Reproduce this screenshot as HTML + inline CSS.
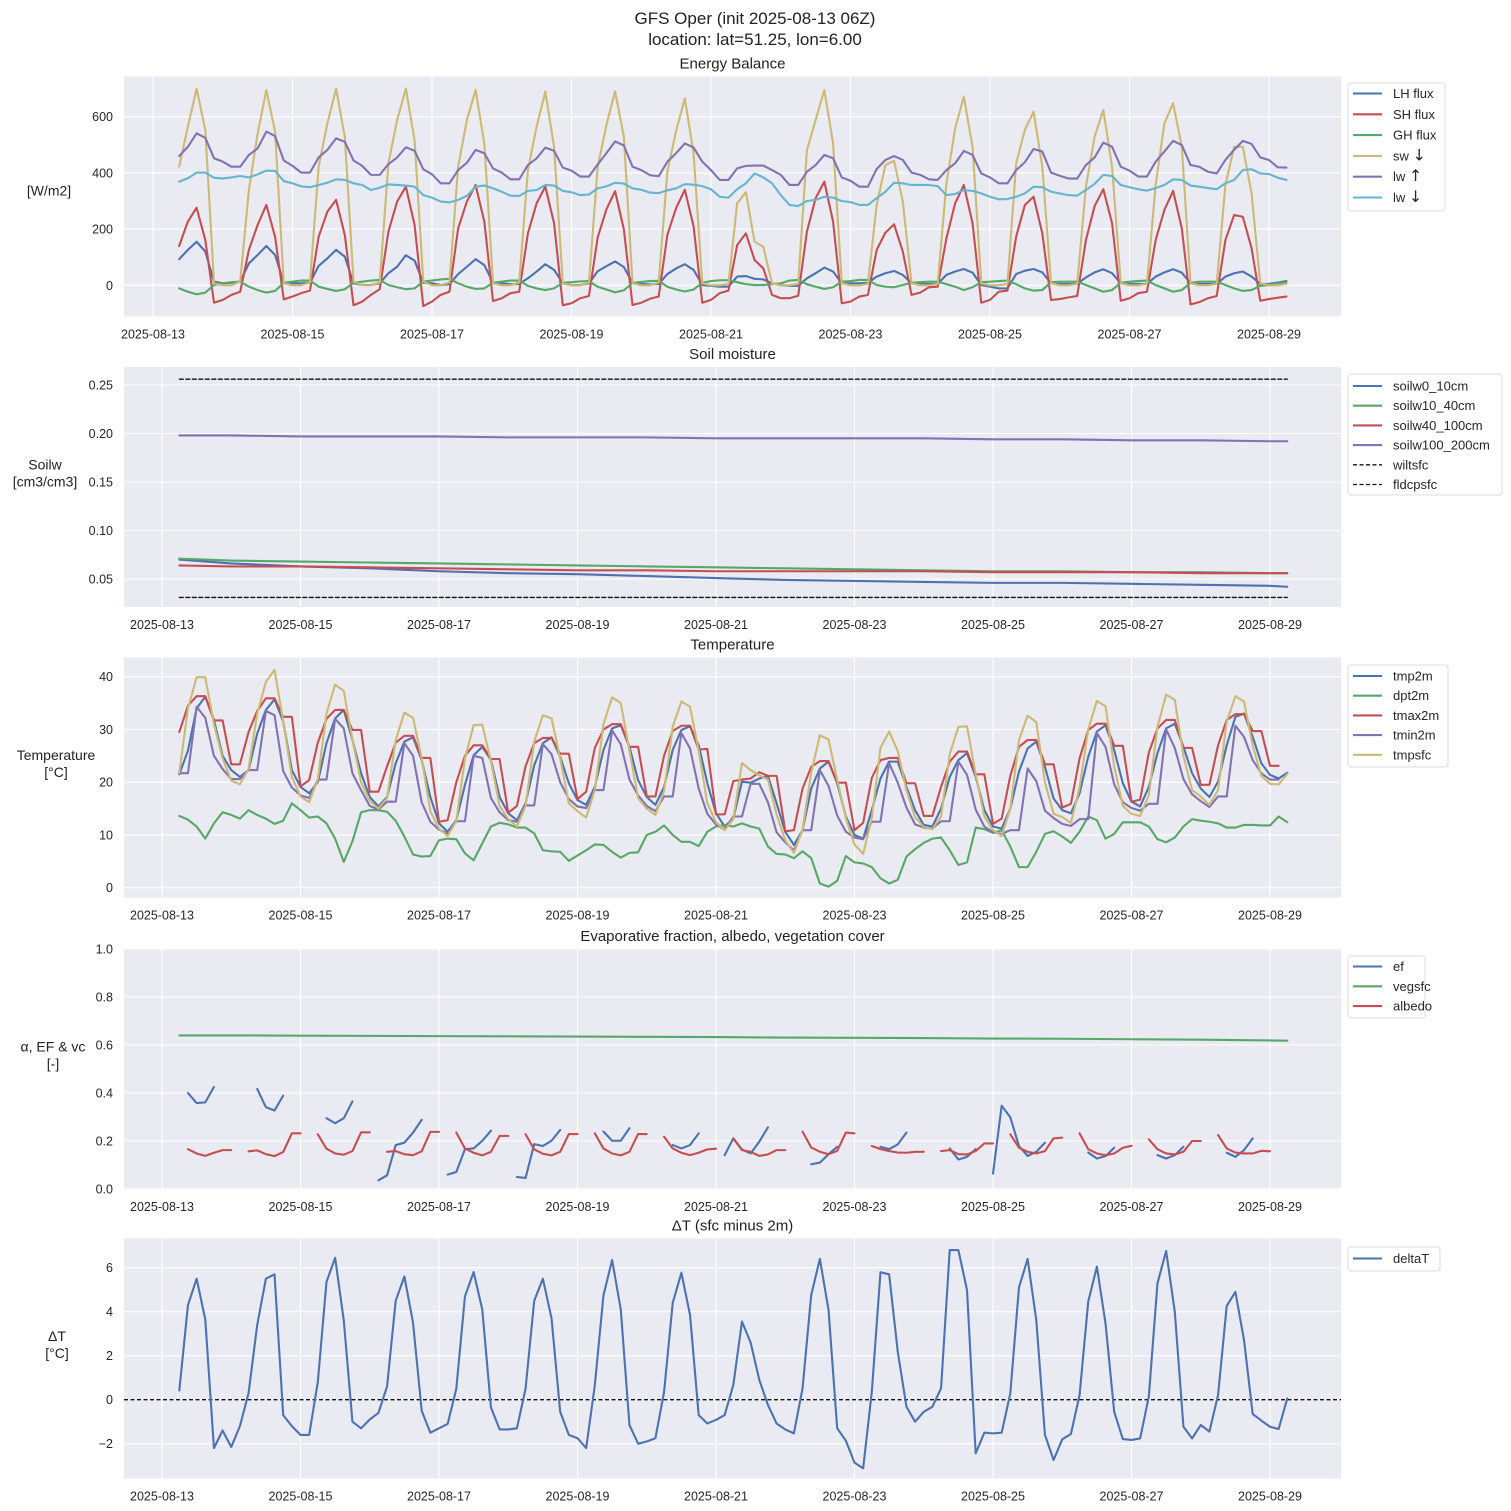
<!DOCTYPE html>
<html><head><meta charset="utf-8">
<style>
html,body{margin:0;padding:0;background:#fff;}
svg{display:block;font-family:"Liberation Sans","DejaVu Sans",sans-serif;}
</style></head>
<body>
<svg id="fig" width="1511" height="1511" viewBox="0 0 1511 1511" xmlns="http://www.w3.org/2000/svg">
<rect width="1511" height="1511" fill="#fff"/>
<text x="755" y="24" font-size="17" text-anchor="middle" fill="#222">GFS Oper (init 2025-08-13 06Z)</text>
<text x="755" y="45" font-size="17" text-anchor="middle" fill="#222">location: lat=51.25, lon=6.00</text>
</svg>
<script>
// ---------- data ----------
const dateLabels = ["2025-08-13","2025-08-15","2025-08-17","2025-08-19","2025-08-21","2025-08-23","2025-08-25","2025-08-27","2025-08-29"];
const dateDays = [0,2,4,6,8,10,12,14,16];

// Energy balance (3-hourly, from 08-13 09Z)
const lhFlux = [93,126,155,120,13,7,9,13, 78,108,140,108,9,7,7,9, 69,96,126,102,7,1,1,7, 43,66,107,88,9,7,1,4, 40,66,93,72,9,7,4,5, 25,49,75,55,7,1,1,7, 50,68,85,65,9,5,3,5, 40,60,75,55,1,-2,-5,-5, 31,33,23,21,7,1,-2,-2, 25,43,63,49,7,7,7,9, 31,43,51,37,7,5,5,5, 37,49,58,45,1,-5,-11,-11, 40,52,58,46,7,5,5,5, 28,46,57,43,7,5,5,5, 31,46,57,45,7,5,5,5, 31,43,49,31,5,5,10,15];
const shFlux = [140,227,276,161,-62,-52,-34,-23, 126,215,286,173,-50,-40,-28,-19, 173,262,304,179,-71,-58,-34,-14, 191,298,351,215,-74,-58,-34,-23, 203,298,357,227,-56,-46,-28,-23, 185,292,351,221,-71,-64,-46,-38, 170,270,335,200,-70,-62,-48,-40, 180,275,340,210,-62,-52,-28,-19, 143,185,90,60,-34,-46,-46,-37, 191,310,369,227,-64,-58,-40,-34, 126,187,217,120,-34,-26,-7,-5, 167,292,357,221,-62,-52,-23,-19, 173,286,315,185,-52,-49,-43,-38, 161,282,342,221,-55,-46,-28,-23, 161,268,336,203,-68,-60,-46,-38, 161,250,244,132,-55,-49,-44,-40];
const ghFlux = [-11,-23,-32,-26,1,7,11,13, -5,-17,-26,-20,9,13,17,17, -5,-13,-20,-14,9,13,17,19, 1,-7,-14,-11,13,17,21,23, 7,-5,-13,-11,9,13,17,17, -2,-11,-17,-11,9,11,14,15, -5,-15,-25,-18,8,12,15,16, -5,-15,-22,-15,9,15,18,18, 11,4,1,1,4,7,17,19, 4,-5,-13,-7,13,15,19,19, 1,-5,-7,1,9,11,13,13, 4,-5,-17,-7,11,13,15,17, 4,-11,-19,-17,11,13,13,13, 1,-11,-23,-17,9,13,15,17, 1,-11,-23,-17,9,13,13,13, 1,-11,-20,-17,-2,1,7,11];
const swDown = [422,565,700,553,7,0,0,13, 340,540,695,547,7,0,0,10, 422,576,700,529,13,0,0,10, 434,588,700,517,13,0,0,10, 422,588,695,505,7,0,0,10, 410,565,689,493,7,0,0,10, 420,570,690,530,7,0,0,10, 405,550,665,470,7,0,0,5, 292,331,155,137,7,0,0,5, 481,588,695,505,7,0,0,5, 286,428,443,298,7,0,0,5, 363,558,671,493,7,0,0,5, 434,553,618,422,7,0,0,5, 351,529,624,422,7,0,0,5, 357,576,648,493,7,0,0,5, 357,493,493,327,7,0,0,5];
const lwUp = [460,493,541,525,452,440,422,422, 464,487,547,531,444,425,401,401, 455,482,523,511,444,425,393,393, 431,455,491,479,413,395,363,363, 410,436,482,470,416,401,377,377, 428,452,490,479,419,408,387,387, 430,470,512,498,422,410,392,388, 440,470,505,490,440,410,375,375, 416,425,426,426,410,393,357,357, 404,428,464,452,384,372,351,351, 414,446,460,446,401,393,377,375, 410,434,478,464,398,384,363,363, 410,438,485,476,401,390,380,380, 428,455,508,493,422,408,387,387, 440,476,514,499,428,422,404,398, 446,482,514,503,455,446,420,419];
const lwDown = [369,381,401,401,383,380,384,389, 384,395,408,407,371,363,352,349, 357,365,377,375,363,357,339,347, 359,357,355,351,321,312,298,295, 304,318,351,355,345,333,319,318, 336,339,357,355,336,331,321,323, 345,352,365,362,345,340,330,328, 338,345,360,358,353,342,315,312, 342,363,398,384,363,321,286,282, 300,304,315,312,300,296,286,286, 310,333,365,363,357,357,357,353, 321,325,339,336,327,315,306,307, 315,327,351,349,333,327,321,319, 339,361,393,389,357,349,342,337, 346,357,377,375,355,351,346,342, 363,375,410,413,398,396,383,375];

// Soil moisture (sampled daily)
const soilDays = [0.25,1,2,3,4,5,6,7,8,9,10,11,12,13,14,15,16,16.25];
const soilw0_10 = [0.070,0.066,0.063,0.061,0.058,0.056,0.055,0.053,0.051,0.049,0.048,0.047,0.046,0.046,0.045,0.044,0.043,0.042];
const soilw10_40 = [0.071,0.069,0.068,0.067,0.066,0.065,0.064,0.063,0.062,0.061,0.060,0.059,0.058,0.058,0.057,0.057,0.056,0.056];
const soilw40_100 = [0.064,0.063,0.063,0.062,0.061,0.060,0.059,0.059,0.058,0.058,0.058,0.058,0.057,0.057,0.057,0.056,0.056,0.056];
const soilw100_200 = [0.198,0.198,0.197,0.197,0.197,0.196,0.196,0.196,0.195,0.195,0.195,0.195,0.194,0.194,0.193,0.193,0.192,0.192];
const wiltsfc = 0.031;
const fldcpsfc = 0.256;

// Temperature (3-hourly from 08-13 06Z)
const tmp2m = [21.5,26,34,36.2,31.8,25,22.3,21, 22.3,29.2,33.7,35.7,31.5,22.3,19.1,17.9, 20,27.4,32.1,33.7,28,21.7,17.2,15.4, 17.2,23.6,27.7,28.5,24.2,17.2,12.2,10.6, 12.8,19.5,25.1,26.7,24.2,17.2,14.1,12.8, 16,23.2,27.4,28.5,24.8,19.8,16.6,15.7, 19.1,26.1,30.2,30.8,26.7,20.4,17.2,15.7, 19.1,26.1,29.9,30.6,27,19.8,14.1,11.6, 13.1,20.1,19.9,20.7,21.2,16,10.6,8.1, 10.9,18.8,22.6,23.9,19.8,13.5,10,9.3, 14.7,20.7,23.9,23.9,19.1,14.7,11.9,11.6, 15,21,24.2,25.5,21,14.7,11.6,11.2, 15,22,26.4,27.7,22.9,16.9,14.7,14.1, 17.9,24.8,29.6,30.8,26.1,19.8,16.3,15.4, 19.1,25.5,30.2,31.1,26.7,21.7,18.8,17.2, 20.1,27,32.4,33,28.6,23.6,21.4,20.7, 21.8];
const dpt2m = [13.6,12.9,11.6,9.3,12.2,14.3,13.8,13.1, 14.7,13.8,13.1,12.1,12.7,16,14.7,13.3, 13.5,12.2,9.3,4.9,8.8,14.3,14.7,14.7, 14.4,12.7,9.7,6.3,5.9,6,9,9.3, 9.2,6.5,5.2,8.4,11.6,12.3,12,11.4, 11.4,10.3,7.1,6.9,6.8,5.1,6.1,7.1, 8.2,8.1,6.8,5.7,6.6,6.7,10,10.6, 11.8,10,8.7,8.7,7.9,10.6,11.6,11.9, 11.6,12.2,11.6,11.2,7.8,6.4,6.3,5.6, 6.9,5.6,0.8,0.2,1.3,6,4.8,4.6, 3.9,1.8,0.8,1.5,5.9,7.3,8.5,9.3, 9.5,7.1,4.3,4.8,11.4,11.1,10.4,10.9, 7.8,3.9,3.9,6.8,10.2,10.7,9.7,8.5, 10.6,13.5,12.8,9.3,10.2,12.4,12.4,12.4, 11.6,9.2,8.6,9.5,11.6,13,12.7,12.5, 12.2,11.4,11.4,11.9,11.9,11.8,11.8,13.5, 12.4];
const tmax2m = [29.5,34.5,36.3,36.3,31.7,31.7,23.4,23.4, 29.5,33.5,35.9,35.9,32.4,32.4,19.2,20.4, 27.5,32,33.7,33.7,29.9,29.9,18.2,18.2, 23,27.5,28.8,28.8,24.6,24.6,12.5,12.8, 20,25,27,27,24.4,24.4,14.2,15.5, 23,27.4,28.4,28.4,25.4,25.4,16.8,18.2, 26.5,30,31,31,26.7,26.7,17.3,17.3, 25,29.7,30.7,30.7,26.2,26.3,13.9,13.9, 20.2,20.5,20.7,21.9,21.2,21.2,10.7,10.9, 18.8,22.9,24,24,19.9,19.9,10.9,12.3, 20.8,24.2,24.6,24.6,19.8,19.8,13.6,13.6, 19.1,23.9,25.8,25.8,21.5,21.5,12.1,13.1, 21.2,26.7,28,28,23.4,23.4,15.2,15.9, 24.5,29.9,31.1,31.1,26.9,26.9,16.3,16.7, 25.6,30.2,31.8,31.8,26.5,26.5,19.5,19.5, 27,31.8,32.9,32.9,29.7,29.7,23.1,23.1];
const tmin2m = [21.7,21.7,34.3,32.2,25,22.5,20.6,20.6, 22.3,22.3,33.5,32.7,22.1,19,17.5,17, 20.5,20.5,32,30.2,21.7,18.5,15.5,14.8, 16.3,16.3,27.4,25,16.2,12.5,11,10.3, 12.6,12.6,25,24.6,17,14.3,12.8,12.5, 15.6,15.6,27.2,25.3,20,16.8,15.4,15.1, 18.5,18.5,29.8,27.2,20.5,17.5,15.5,14.5, 17.3,17.3,29.3,26.4,18.8,14,12,11, 13.5,13.5,19.7,19.7,16.2,10.5,8.6,7.1, 10.9,10.9,22.3,19.3,13.7,10.6,9.5,9.2, 12.5,12.5,23.6,19.9,15.2,12,11.4,11.2, 12.6,12.6,23.9,21.4,14.8,11.6,10.5,10.2, 10.9,10.9,22.6,20.2,14.6,13.2,12.1,11.7, 13,13,29.3,26.7,19.6,16.2,15.1,14.6, 15.9,15.9,30,26.5,20.6,17.7,16.4,15.3, 17.3,17.3,30.7,28.6,24.2,21.7,20.5,20.5];
const tmpsfc = [21.8,34,39.9,39.9,31,24.5,20.3,19.6, 22.5,33,39,41.3,31.6,21,17.3,16.2, 20.5,33,38.5,37.3,28,20,16.5,15, 17,28,33.2,32.2,24.5,14.5,11.2,9.8, 12.7,24.5,30.8,30.9,24,15.5,13,11.6, 15.5,27.7,32.7,32.1,24.5,16,14.5,13.3, 18.5,31,36.1,35,26,17,15,13.8, 18.3,30.5,35.3,34.3,26,16,12.4,10.9, 13,23.6,22.3,21.3,20.5,13.9,9,6.6, 11,21.8,28.9,28.1,20.5,13.2,8.2,6.4, 13.2,26.5,29.6,25.9,18.5,13.4,11.5,11.1, 13.5,25.3,30.5,30.6,21.5,13.5,10.9,9.8, 15,28,32.6,31.4,20,14,13.4,12.3, 19,30,35.4,34.4,23,15.5,14,13.6, 17.5,30.5,36.6,35.6,25,18.5,17.3,15.7, 18.5,31.5,36.3,35.3,27,21.2,19.7,19.6, 21.6];

// Evaporative fraction / albedo / veg (null = missing)
const _ = null;
const efVals = [_,0.40,0.358,0.361,0.425,_,_,_, _,0.417,0.341,0.327,0.389,_,_,_, _,0.295,0.274,0.295,0.365,_,_,0.036, 0.057,0.183,0.193,0.235,0.288,_,_,0.060, 0.071,0.166,0.169,0.201,0.243,_,_,0.050, 0.046,0.187,0.179,0.201,0.246,_,_,_, _,0.239,0.201,0.201,0.253,_,_,_, _,0.183,0.169,0.183,0.232,_,_,0.141, 0.211,0.165,0.148,0.197,0.257,_,_,_, _,0.103,0.110,0.145,0.176,_,_,_, _,0.176,0.166,0.186,0.235,_,_,_, _,0.169,0.123,0.134,0.166,_,0.064,0.347, 0.299,0.179,0.138,0.155,0.193,_,_,_, _,0.152,0.127,0.137,0.172,_,_,_, _,0.141,0.127,0.141,0.176,_,_,_, _,0.151,0.134,0.162,0.211,_,_,_, _];
const albedoVals = [_,0.166,0.148,0.138,0.151,0.162,0.162,_, 0.157,0.161,0.145,0.137,0.154,0.232,0.232,_, 0.228,0.168,0.148,0.143,0.158,0.236,0.236,_, 0.155,0.158,0.145,0.141,0.157,0.238,0.238,_, 0.235,0.169,0.151,0.140,0.155,0.221,0.221,_, 0.228,0.165,0.147,0.140,0.155,0.229,0.229,_, 0.232,0.169,0.148,0.140,0.155,0.229,0.229,_, 0.218,0.169,0.151,0.141,0.151,0.165,0.168,_, 0.211,0.162,0.155,0.138,0.144,0.162,0.162,_, 0.239,0.173,0.155,0.145,0.159,0.235,0.232,_, 0.179,0.166,0.158,0.152,0.151,0.155,0.155,_, 0.158,0.162,0.145,0.144,0.158,0.190,0.190,_, 0.228,0.172,0.155,0.148,0.158,0.211,0.214,_, 0.232,0.166,0.148,0.141,0.148,0.172,0.180,_, 0.207,0.166,0.148,0.144,0.155,0.200,0.200,_, 0.225,0.169,0.152,0.148,0.148,0.159,0.157,_, _];
const vegDays = [0.25,1,2,3,4,5,6,7,8,9,10,11,12,13,14,15,16,16.25];
const vegsfc = [0.640,0.640,0.639,0.638,0.637,0.636,0.635,0.634,0.633,0.631,0.630,0.629,0.627,0.626,0.624,0.622,0.619,0.618];

// Delta T
const deltaT = [0.42,4.3,5.5,3.65,-2.2,-1.4,-2.15,-1.2, 0.3,3.4,5.5,5.7,-0.7,-1.2,-1.6,-1.6, 0.8,5.35,6.45,3.6,-1.0,-1.3,-0.9,-0.6, 0.6,4.5,5.6,3.5,-0.5,-1.5,-1.3,-1.1, 0.5,4.7,5.8,4.1,-0.35,-1.35,-1.35,-1.3, 0.5,4.5,5.5,3.7,-0.55,-1.6,-1.75,-2.2, 0.65,4.75,6.35,4.1,-1.15,-2.0,-1.9,-1.75, 0.35,4.4,5.77,3.85,-0.7,-1.08,-0.92,-0.7, 0.67,3.55,2.6,0.9,-0.24,-1.08,-1.35,-1.53, 0.52,4.76,6.4,4.08,-1.3,-1.86,-2.86,-3.12, 0.36,5.79,5.7,2.18,-0.32,-1.0,-0.55,-0.32, 0.52,6.8,6.8,4.98,-2.44,-1.5,-1.53,-1.5, 0.29,5.1,6.4,3.62,-1.6,-2.74,-1.8,-1.56, 0.21,4.45,6.05,3.47,-0.55,-1.79,-1.83,-1.76, 0.14,5.29,6.76,4.0,-1.23,-1.76,-1.15,-1.45, 0.21,4.26,4.9,2.71,-0.65,-0.95,-1.23,-1.33, 0.06];

const energyTicks = [0,200,400,600];
const soilTicks = [0.05,0.10,0.15,0.20,0.25];
const tempTicks = [0,10,20,30,40];
const fracTicks = [0.0,0.2,0.4,0.6,0.8,1.0];
const dtTicks = [-2,0,2,4,6];

// ---------- drawing ----------
const NS = "http://www.w3.org/2000/svg";
const svg = document.getElementById('fig');
const C = {blue:"#4C72B0",red:"#C44E52",green:"#55A868",purple:"#8172B2",yellow:"#CCB974",cyan:"#64B5CD"};
function mk(tag, attrs, parent){
  const e = document.createElementNS(NS, tag);
  for (const k in attrs) e.setAttribute(k, attrs[k]);
  (parent||svg).appendChild(e);
  return e;
}
const AX_L = 124, AX_R = 1341;

function makePanel(key, top, bottom, x0, dayPx, yfun, ticks, tickFmt, title, ylab, ylabX){
  const g = mk('g', {});
  
  
  const bg = mk('rect', {x:AX_L, y:top, width:AX_R-AX_L, height:bottom-top, fill:'#EAEAF2'}, g);
  
  
  const X = d => x0 + d*dayPx;
  dateDays.forEach((d,k)=>{
    mk('line', {x1:X(d), x2:X(d), y1:top, y2:bottom, stroke:'#fff', 'stroke-width':1.1}, g);
    const t = mk('text', {x:X(d), y:bottom+22, 'font-size':12.5, 'text-anchor':'middle', fill:'#262626'}, g);
    t.textContent = dateLabels[k];
    
    
  });
  ticks.forEach(v=>{
    const y = yfun(v);
    mk('line', {x1:AX_L, x2:AX_R, y1:y, y2:y, stroke:'#fff', 'stroke-width':1.1}, g);
    const t = mk('text', {x:113, y:y+4.5, 'font-size':12.5, 'text-anchor':'end', fill:'#262626'}, g);
    t.textContent = tickFmt(v);
    
    
  });
  const tt = mk('text', {x:(AX_L+AX_R)/2, y:top-8, 'font-size':15, 'text-anchor':'middle', fill:'#222'}, g);
  tt.textContent = title;
  
  
  const mid = (top+bottom)/2 - (ylab.length > 1 ? 14 : 6);
  ylab.forEach((s,k)=>{
    const yl = mk('text', {x:ylabX, y:mid - (ylab.length-1)*8.5 + k*17 + 5, 'font-size':14, 'text-anchor':'middle', fill:'#222'}, g);
    yl.textContent = s;
    
    
  });
  return {g, X};
}

function drawSeries(g, X, yfun, times, vals, color, name, dash){
  let seg = [];
  const segs = [];
  vals.forEach((v,i)=>{
    if (v === null || v === undefined) { if (seg.length) segs.push(seg); seg = []; }
    else seg.push(X(times[i]).toFixed(2)+','+yfun(v).toFixed(2));
  });
  if (seg.length) segs.push(seg);
  segs.forEach(s=>{
    if (s.length === 1) return;
    const p = mk('polyline', {points:s.join(' '), fill:'none', stroke:color, 'stroke-width':dash?1.3:2.1, 'stroke-linejoin':'round', 'stroke-linecap':'round'}, g);
    if (dash) p.setAttribute('stroke-dasharray', '4,2.5');
    
    
  });
}

function legend(key, x, y, w, h, entries, step, firstY){
  const g = mk('g', {});
  
  
  mk('rect', {x:x, y:y, width:w, height:h, rx:3, fill:'#fff', 'fill-opacity':0.85, stroke:'#dcdcdc', 'stroke-width':1}, g);
  entries.forEach((e,k)=>{
    const yy = firstY + k*step;
    const ln = mk('line', {x1:x+5, x2:x+34, y1:yy, y2:yy, stroke:e[1], 'stroke-width':e[2]?1.3:2.1}, g);
    if (e[2]) ln.setAttribute('stroke-dasharray', '4,2.5');
    const t = mk('text', {x:x+45, y:yy+4.5, 'font-size':13, fill:'#262626'}, g);
    const m = e[0].match(/^(.*?)([\u2191\u2193])$/);
    if (m) {
      t.textContent = m[1];
      const ar = mk('tspan', {'font-size':16, 'font-family':'DejaVu Sans, sans-serif'}, t);
      ar.textContent = m[2];
    } else {
      t.textContent = e[0];
    }
    
    
  });
}

// time arrays
const tEnergy = lhFlux.map((_,i)=>0.375 + 0.125*i);
const tMain = tmp2m.map((_,i)=>0.25 + 0.125*i);

// Panel 1: energy
{
  const yf = v => 285.3 - v*0.281;
  const P = makePanel('energy', 76.5, 316.5, 153, 69.75, yf, energyTicks, v=>String(v), 'Energy Balance', ['[W/m2]'], 49);
  drawSeries(P.g, P.X, yf, tEnergy, lhFlux, C.blue, 'lh-flux');
  drawSeries(P.g, P.X, yf, tEnergy, shFlux, C.red, 'sh-flux');
  drawSeries(P.g, P.X, yf, tEnergy, ghFlux, C.green, 'gh-flux');
  drawSeries(P.g, P.X, yf, tEnergy, swDown, C.yellow, 'sw-down');
  drawSeries(P.g, P.X, yf, tEnergy, lwUp, C.purple, 'lw-up');
  drawSeries(P.g, P.X, yf, tEnergy, lwDown, C.cyan, 'lw-down');
  legend('energy', 1348, 83, 97, 128, [['LH flux',C.blue],['SH flux',C.red],['GH flux',C.green],['sw \u2193',C.yellow],['lw \u2191',C.purple],['lw \u2193',C.cyan]], 20.8, 93.5);
}
// Panel 2: soil
{
  const yf = v => 579 - (v-0.05)*970;
  const P = makePanel('soil', 367, 607, 162, 69.25, yf, soilTicks, v=>v.toFixed(2), 'Soil moisture', ['Soilw','[cm3/cm3]'], 45);
  drawSeries(P.g, P.X, yf, soilDays, soilw0_10, C.blue, 'soilw0-10cm');
  drawSeries(P.g, P.X, yf, soilDays, soilw10_40, C.green, 'soilw10-40cm');
  drawSeries(P.g, P.X, yf, soilDays, soilw40_100, C.red, 'soilw40-100cm');
  drawSeries(P.g, P.X, yf, soilDays, soilw100_200, C.purple, 'soilw100-200cm');
  drawSeries(P.g, P.X, yf, [0.25,16.25], [wiltsfc,wiltsfc], '#111', 'wiltsfc', true);
  drawSeries(P.g, P.X, yf, [0.25,16.25], [fldcpsfc,fldcpsfc], '#111', 'fldcpsfc', true);
  legend('soil', 1348, 374, 154, 121, [['soilw0_10cm',C.blue],['soilw10_40cm',C.green],['soilw40_100cm',C.red],['soilw100_200cm',C.purple],['wiltsfc','#111',true],['fldcpsfc','#111',true]], 19.7, 386);
}
// Panel 3: temperature
{
  const yf = v => 887.7 - v*5.275;
  const P = makePanel('temperature', 657.5, 897.5, 162, 69.25, yf, tempTicks, v=>String(v), 'Temperature', ['Temperature','[\u00B0C]'], 56);
  drawSeries(P.g, P.X, yf, tMain, tmp2m, C.blue, 'tmp2m');
  drawSeries(P.g, P.X, yf, tMain, dpt2m, C.green, 'dpt2m');
  drawSeries(P.g, P.X, yf, tMain, tmax2m, C.red, 'tmax2m');
  drawSeries(P.g, P.X, yf, tMain, tmin2m, C.purple, 'tmin2m');
  drawSeries(P.g, P.X, yf, tMain, tmpsfc, C.yellow, 'tmpsfc');
  legend('temperature', 1348, 665, 100, 102, [['tmp2m',C.blue],['dpt2m',C.green],['tmax2m',C.red],['tmin2m',C.purple],['tmpsfc',C.yellow]], 19.7, 676);
}
// Panel 4: fractions
{
  const yf = v => 1189 - v*240;
  const P = makePanel('fraction', 949, 1189, 162, 69.25, yf, fracTicks, v=>v.toFixed(1), 'Evaporative fraction, albedo, vegetation cover', ['\u03B1, EF & vc','[-]'], 53);
  drawSeries(P.g, P.X, yf, tMain, efVals, C.blue, 'ef');
  drawSeries(P.g, P.X, yf, vegDays, vegsfc, C.green, 'vegsfc');
  drawSeries(P.g, P.X, yf, tMain, albedoVals, C.red, 'albedo');
  legend('fraction', 1348, 956, 77, 62, [['ef',C.blue],['vegsfc',C.green],['albedo',C.red]], 19.8, 966.5);
}
// Panel 5: delta T
{
  const yf = v => 1399.7 - v*22;
  const P = makePanel('delta-t', 1238.5, 1478.5, 162, 69.25, yf, dtTicks, v=>(v<0?'\u2212'+(-v):String(v)), '\u0394T (sfc minus 2m)', ['\u0394T','[\u00B0C]'], 57);
  const z = mk('line', {x1:AX_L, x2:AX_R, y1:yf(0), y2:yf(0), stroke:'#111', 'stroke-width':1.3, 'stroke-dasharray':'4,2.5'}, P.g);
  
  
  drawSeries(P.g, P.X, yf, tMain, deltaT, C.blue, 'delta-t');
  legend('delta-t', 1348, 1247, 92, 24, [['deltaT',C.blue]], 20, 1258.5);
}
</script>
</body></html>
